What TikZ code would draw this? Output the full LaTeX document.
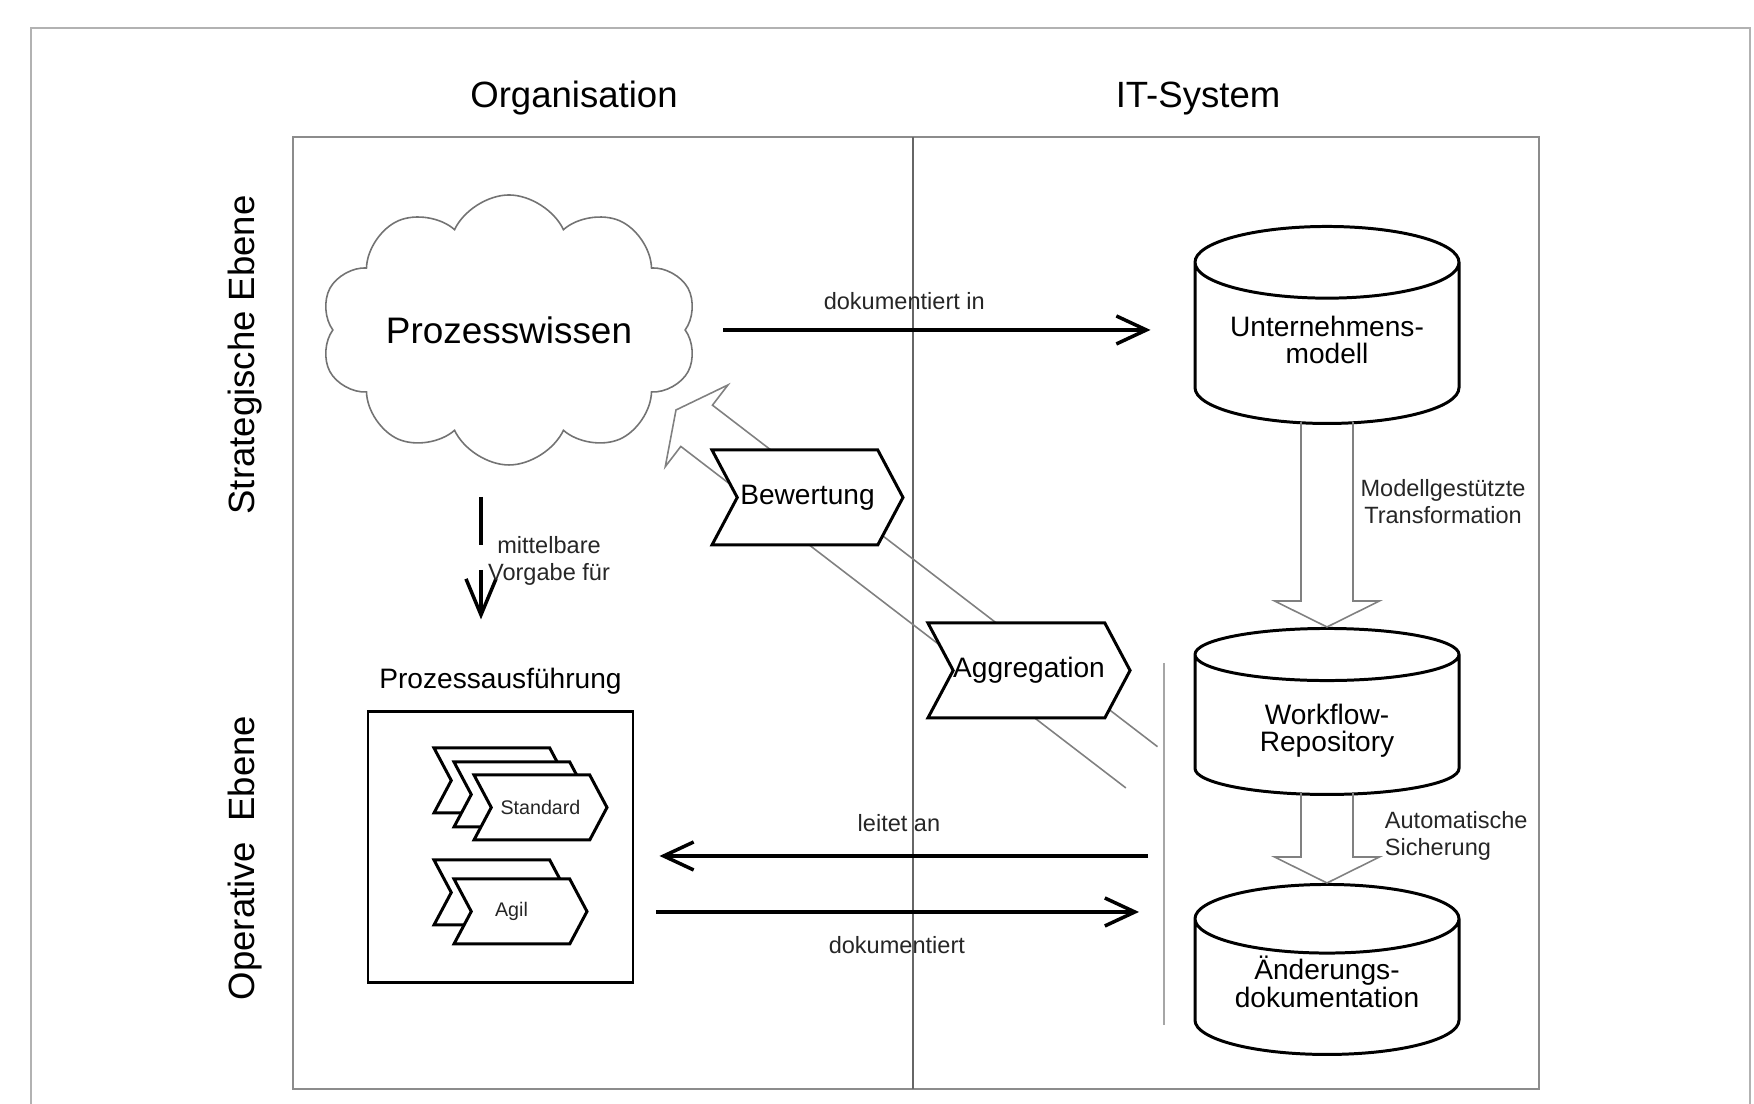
\documentclass[tikz,border=0pt]{standalone}
\usepackage{fontspec}
\setmainfont{Liberation Sans}
\usetikzlibrary{arrows.meta,shapes.geometric,shapes.symbols,positioning}

\begin{document}
\begin{tikzpicture}
        \tikzstyle{headline}=[font=\fontsize{10.4}{12}\selectfont]
        \tikzstyle{lbl}=[font=\fontsize{6.7}{7.7}\selectfont,text=black!85,align=center]
        \tikzstyle{db}=[cylinder,shape border rotate=90,aspect=0.33,draw,line width=0.85pt,fill=white,minimum width=2.64cm,align=center,anchor=north,font=\fontsize{8}{7.8}\selectfont]
        \tikzstyle{task}=[signal,signal to=east,signal from=west,signal pointer angle=124,draw,line width=0.85pt,fill=white,minimum width=1.91cm,minimum height=0.95cm,inner sep=0pt,font=\fontsize{8}{9}\selectfont]
        \tikzstyle{subtask}=[task,minimum width=1.33cm,minimum height=0.65cm,font=\fontsize{5.6}{7}\selectfont,text=black!85]
        \tikzstyle{flow}=[line width=1pt,-{Straight Barb[length=3mm,width=2.8mm]}]
        \tikzstyle{vorgabe}=[line width=1pt,dash pattern=on 4.8mm off 2.5mm,-{Straight Barb[length=3.6mm,width=3mm]}]
        \tikzstyle{hollow}=[draw=black!50,line width=0.45pt]
        \useasboundingbox (0,0) rectangle (17.54,11.04);
        % frame and lanes
        \draw [black!30,line width=0.45pt] (0.31,-0.1) -- (0.31,10.76) -- (17.50,10.76) -- (17.50,-0.1);
        \draw [black!45,line width=0.6pt] (2.927,0.147) rectangle (15.393,9.667);
        \draw [black!60,line width=0.45pt] (9.13,0.147) -- (9.13,9.667);
        \node [headline] (org) at (5.74,10.055) {Organisation};
        \node [headline] (its) at (11.98,10.055) {IT-System};
        \node [headline,rotate=90] (se) at (2.45,7.49) {Strategische Ebene};
        \node [headline,rotate=90] (oe) at (2.45,2.46) {Operative\ \ Ebene};
        % feedback arrow (behind the tasks)
        \coordinate (aggtail) at (11.415,3.365);
        \coordinate (bewtip) at (6.76,6.94);
        \begin{scope}[shift={(bewtip)},rotate=142.5]
            \draw [hollow] (-5.87,0.26) -- (-0.26,0.26) -- (-0.26,0.515) -- (0,0) -- (-0.26,-0.515) -- (-0.26,-0.26) -- (-5.87,-0.26);
        \end{scope}
        % strategic level
        \node [cloud,cloud puffs=10,cloud puff arc=130,cloud ignores aspect,draw=black!55,line width=0.45pt,fill=white,
               minimum width=3.68cm,minimum height=2.70cm,font=\fontsize{10.5}{12}\selectfont] (pw) at (5.09,7.74) {Prozesswissen};
        \node [db,minimum height=1.97cm,text depth=2.2mm] (um) at (13.27,8.79) {Unternehmens-\\modell};
        \draw [flow,shorten <=3.7mm,shorten >=4.3mm] (pw.east) -- (pw.east -| um.west) node [lbl,pos=0.43,above=2pt] {dokumentiert in};
        \node [task] (bew) at (8.075,6.065) {Bewertung};
        % operative level
        \node [db,minimum height=1.66cm] (wf) at (13.27,4.77) {Workflow-\\Repository};
        \node [db,minimum height=1.70cm,inner ysep=0.1mm,text depth=2.5mm] (ad) at (13.27,2.21) {Änderungs-\\dokumentation};
        \begin{scope}[shift={(wf.north)},rotate=-90]
            \draw [hollow] (-2.05,0.26) -- (-0.26,0.26) -- (-0.26,0.525) -- (0,0) -- (-0.26,-0.525) -- (-0.26,-0.26) -- (-2.05,-0.26);
        \end{scope}
        \begin{scope}[shift={(ad.north)},rotate=-90]
            \draw [hollow] (-0.90,0.26) -- (-0.26,0.26) -- (-0.26,0.525) -- (0,0) -- (-0.26,-0.525) -- (-0.26,-0.26) -- (-0.90,-0.26);
        \end{scope}
        \node [lbl] (mt) at (14.43,6.02) {Modellgestützte\\Transformation};
        \node [lbl,anchor=west,align=left] (as) at (13.725,2.685) {Automatische\\Sicherung};
        \node [task] (agg) at (10.29,4.335) {Aggregation};
        \draw [black!35,line width=0.45pt] (11.64,4.41) -- (11.64,0.79);
        \node [draw,line width=0.85pt,minimum width=2.65cm,minimum height=2.71cm] (pa) at (5.005,2.565) {};
        \node [font=\fontsize{8}{9}\selectfont,above=0.4mm of pa] (pl) {Prozessausführung};
        \node [subtask] (std1) at (5.005,3.235) {};
        \node [subtask] (std2) at (5.205,3.095) {};
        \node [subtask] (std3) at (5.405,2.965) {Standard};
        \node [subtask] (agl1) at (5.005,2.115) {};
        \node [subtask] (agl2) at (5.205,1.925) {Agil\hspace{1.8mm}\mbox{}};
        \coordinate (mv) at (4.81,6.07);
        \draw [vorgabe,shorten >=3.6mm] (mv) -- (mv |- pl.north);
        \node [lbl] (mvl) at (5.49,5.43) {mittelbare\\Vorgabe für};
        \coordinate (itl) at (11.48,2.48);
        \coordinate (itd) at (11.39,1.92);
        \draw [flow,shorten >=2.5mm] (itl) -- (itl -| pa.east) node [lbl,pos=0.485,above=3pt] {leitet an};
        \draw [flow,shorten <=2.2mm] (itd -| pa.east) -- (itd) node [lbl,pos=0.52,below=3pt] {dokumentiert};
\end{tikzpicture}
\end{document}
